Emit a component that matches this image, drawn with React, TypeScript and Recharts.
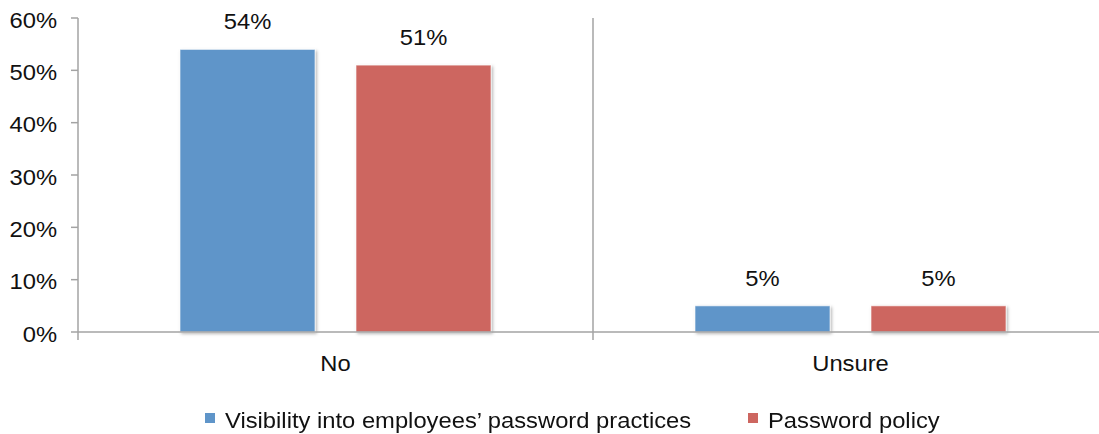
import React from 'react';
import { BarChart, Bar, XAxis, YAxis, CartesianGrid, Legend, LabelList } from 'recharts';

const categories = ['No', 'Unsure'];
const visibilityValues = [54, 5];
const policyValues = [51, 5];
const yTicks = [0, 10, 20, 30, 40, 50, 60];
const seriesNames = ['Visibility into employees’ password practices', 'Password policy'];
const seriesColors = ['#5F95C9', '#CD6660'];

const data = categories.map((category, i) => ({
  category,
  visibility: visibilityValues[i],
  policy: policyValues[i],
}));

const FONT = '"Liberation Sans", Arial, sans-serif';
const FONT_SIZE = 22;
const STRETCH = 1.08;
const AXIS_COLOR = '#A3A3A3';

const YTick = (props: any) => {
  const { x, y, payload } = props;
  return (
    <text
      transform={`translate(${x},${y + 9.5}) scale(${STRETCH},1)`}
      textAnchor="end"
      fontFamily={FONT}
      fontSize={FONT_SIZE}
      fill="#111"
    >
      {`${payload.value}%`}
    </text>
  );
};

const XTick = (props: any) => {
  const { x, y, payload, index, visibleTicksCount } = props;
  const half = payload.offset || 257;
  const last = index === (visibleTicksCount ?? categories.length) - 1;
  return (
    <g>
      <line x1={x - half} x2={x - half} y1={y} y2={y + 8} stroke={AXIS_COLOR} strokeWidth={1.5} />
      {last && <line x1={x + half} x2={x + half} y1={y} y2={y + 8} stroke={AXIS_COLOR} strokeWidth={1.5} />}
      <text
        transform={`translate(${x},${y + 39}) scale(${STRETCH},1)`}
        textAnchor="middle"
        fontFamily={FONT}
        fontSize={FONT_SIZE}
        fill="#111"
      >
        {payload.value}
      </text>
    </g>
  );
};

const BarLabel = (props: any) => {
  const { x, y, width, value } = props;
  return (
    <text
      transform={`translate(${x + width / 2},${y - 20}) scale(${STRETCH},1)`}
      textAnchor="middle"
      fontFamily={FONT}
      fontSize={FONT_SIZE}
      fill="#111"
    >
      {`${value}%`}
    </text>
  );
};

const BarShape = (props: any) => {
  const { x, y, width, height, fill } = props;
  return (
    <rect
      x={x}
      y={y}
      width={width}
      height={height}
      fill={fill}
      stroke="#ffffff"
      strokeOpacity={0.6}
      strokeWidth={1}
      filter="url(#barShadow)"
    />
  );
};

const renderLegend = () => (
  <div
    style={{
      display: 'flex',
      alignItems: 'flex-start',
      height: 52,
      paddingTop: 26,
      paddingLeft: 205,
      boxSizing: 'border-box',
      fontFamily: FONT,
      fontSize: FONT_SIZE,
      lineHeight: '25px',
      color: '#111',
    }}
  >
    {seriesNames.map((name, i) => (
      <div key={name} style={{ display: 'flex', alignItems: 'flex-start', marginRight: i === 0 ? 91 : 0 }}>
        <span style={{ width: 10, height: 10, marginTop: 5, marginRight: 10, background: seriesColors[i], display: 'inline-block' }} />
        <span style={{ display: 'inline-block', whiteSpace: 'nowrap', transform: `scaleX(${STRETCH})`, transformOrigin: 'left' }}>
          {name}
        </span>
      </div>
    ))}
  </div>
);

export default function App() {
  return (
    <div style={{ position: 'absolute', left: 0, top: 0, width: 1099, height: 434, overflow: 'hidden', background: '#fff' }}>
      <BarChart
        width={1108}
        height={434}
        data={data}
        margin={{ top: 18, right: 0, bottom: 0, left: 0 }}
        barCategoryGap={102}
        barGap={41}
      >
        <defs>
          <filter id="barShadow" x="-10%" y="-10%" width="130%" height="130%">
            <feDropShadow dx="1.5" dy="1.5" stdDeviation="1.5" floodColor="#000" floodOpacity="0.3" />
          </filter>
        </defs>
        <CartesianGrid
          horizontal={false}
          vertical
          stroke={AXIS_COLOR}
          strokeWidth={1.5}
          verticalCoordinatesGenerator={({ offset }: any) =>
            categories.slice(1).map((_, i) => offset.left + (offset.width * (i + 1)) / categories.length)
          }
        />
        <XAxis
          dataKey="category"
          height={50}
          tickLine={false}
          tickSize={0}
          tickMargin={0}
          axisLine={{ stroke: AXIS_COLOR, strokeWidth: 1.5 }}
          tick={<XTick />}
          interval={0}
        />
        <YAxis
          width={78}
          domain={[0, 60]}
          ticks={yTicks}
          tickSize={7}
          tickMargin={14}
          axisLine={{ stroke: AXIS_COLOR, strokeWidth: 1.5 }}
          tickLine={{ stroke: AXIS_COLOR, strokeWidth: 1.5 }}
          tick={<YTick />}
          interval={0}
        />
        <Legend verticalAlign="bottom" height={52} content={renderLegend} wrapperStyle={{ left: 0, width: 1099 }} />
        <Bar dataKey="visibility" name={seriesNames[0]} fill={seriesColors[0]} shape={<BarShape />} isAnimationActive={false}>
          <LabelList dataKey="visibility" content={<BarLabel />} />
        </Bar>
        <Bar dataKey="policy" name={seriesNames[1]} fill={seriesColors[1]} shape={<BarShape />} isAnimationActive={false}>
          <LabelList dataKey="policy" content={<BarLabel />} />
        </Bar>
      </BarChart>
    </div>
  );
}
